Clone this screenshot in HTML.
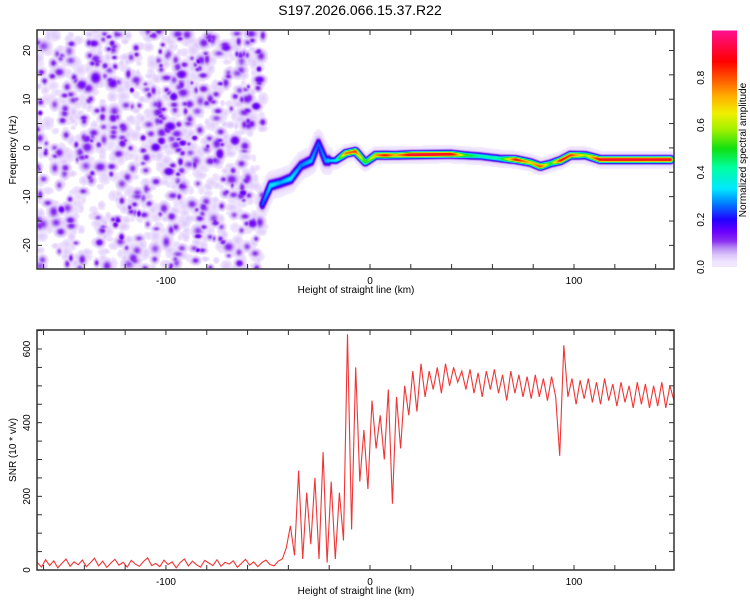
<!DOCTYPE html>
<html><head><meta charset="utf-8">
<style>
html,body{margin:0;padding:0;background:#fff;}
#wrap{position:relative;width:750px;height:600px;overflow:hidden;font-family:"Liberation Sans",sans-serif;}
#heat{position:absolute;left:37px;top:30px;}
#svg{position:absolute;left:0;top:0;}
</style></head>
<body>
<div id="wrap">
<canvas id="heat" width="637" height="239"></canvas>
<svg id="svg" width="750" height="600" xmlns="http://www.w3.org/2000/svg">
<defs>
<linearGradient id="cmap" x1="0" y1="1" x2="0" y2="0"></linearGradient>
</defs>
<text x="360" y="15" text-anchor="middle" font-size="14" fill="#000">S197.2026.066.15.37.R22</text>
<g id="top-axes"></g>
<g id="bot-plot"></g>
<g id="cbar"></g>
</svg>
</div>
<script>
// ---- data ----
const trackH = [-53,-49,-44,-39,-34,-29,-25.5,-22,-17,-12,-7.4,-2.5,2.5,7.4,12.3,19.6,39.2,46,53.9,63.7,71.1,78.4,83.3,88.2,93.1,98,105.4,112.7,147];
const trackF = [-11.5,-7.6,-7,-6.2,-3.5,-2.5,1,-2.5,-2.5,-1,-0.6,-2.9,-1.4,-1.4,-1.4,-1.3,-1.2,-1.4,-1.6,-2.1,-2.3,-2.9,-3.7,-3.1,-2.5,-1.4,-1.4,-2.3,-2.3];
const trackA = [0.25,0.35,0.3,0.35,0.28,0.32,0.25,0.3,0.35,0.8,0.85,0.5,0.75,0.9,0.75,0.95,0.95,0.55,0.42,0.45,0.9,0.7,0.85,0.5,0.9,0.85,0.6,0.95,0.95];
const snrStart = -163, snrStep = 2;
const snrV = [20,8,28,12,25,6,18,30,10,22,14,27,9,20,32,11,24,7,19,29,13,21,8,26,16,10,23,33,12,18,9,27,15,22,6,20,30,11,24,14,8,26,19,12,28,10,21,16,25,7,18,29,13,22,9,20,27,15,11,24,30,
60,120,40,270,30,210,70,250,30,320,20,240,30,210,80,640,110,550,240,380,220,460,330,420,300,490,180,470,330,500,420,540,430,560,470,540,490,550,480,560,500,550,510,540,490,545,480,535,470,540,490,545,480,530,460,540,480,530,470,525,465,530,470,520,460,525,470,310,610,470,520,450,515,465,520,455,510,450,520,460,505,445,510,455,500,440,510,450,505,440,500,445,510,440,500,460];
const xTickLabels = [-100,0,100];
const fTickLabels = [-20,-10,0,10,20];
const snrTickLabels = [0,200,400,600];
const cbTickLabels = [0.0,0.2,0.4,0.6,0.8];

// ---- geometry ----
const X0=37,X1=674,TY0=30,TY1=269,BY0=330,BY1=570;
const XMIN=-163.2,XMAX=149.0,FMIN=-24.85,FMAX=24.2,SMIN=0,SMAX=651.6;
const xs=v=>X0+(v-XMIN)/(XMAX-XMIN)*(X1-X0);
const fs=v=>TY1-(v-FMIN)/(FMAX-FMIN)*(TY1-TY0);
const ss=v=>BY1-(v-SMIN)/(SMAX-SMIN)*(BY1-BY0);

// ---- colormap ----
const stops=[[0,'#ffffff'],[0.02,'#f0e6ff'],[0.05,'#dcc6fa'],[0.08,'#b88cf5'],[0.11,'#8a2ef0'],[0.15,'#6a00ff'],[0.2,'#2000ff'],[0.27,'#0080ff'],[0.33,'#00e8ff'],[0.42,'#00ffa0'],[0.5,'#10e010'],[0.58,'#a0f000'],[0.65,'#f0f000'],[0.72,'#ffb000'],[0.8,'#ff5000'],[0.87,'#ff0000'],[1,'#ff1090']];
const hex=h=>[parseInt(h.substr(1,2),16),parseInt(h.substr(3,2),16),parseInt(h.substr(5,2),16)];
const srgb=stops.map(s=>[s[0],hex(s[1])]);
function cmap(v){v=Math.max(0,Math.min(1,v));for(let i=1;i<srgb.length;i++){if(v<=srgb[i][0]){const a=srgb[i-1],b=srgb[i];const t=(v-a[0])/(b[0]-a[0]);return [0,1,2].map(k=>Math.round(a[1][k]+(b[1][k]-a[1][k])*t));}}return srgb[srgb.length-1][1];}

// ---- heatmap ----
const W=637,H=239,field=new Float32Array(W*H);
function splat(cx,cy,sx,sy,a){const x0=Math.max(0,Math.floor(cx-3*sx)),x1=Math.min(W-1,Math.ceil(cx+3*sx)),y0=Math.max(0,Math.floor(cy-3*sy)),y1=Math.min(H-1,Math.ceil(cy+3*sy));
for(let y=y0;y<=y1;y++){const dy=(y-cy)/sy;for(let x=x0;x<=x1;x++){const dx=(x-cx)/sx;const v=a*Math.exp(-0.5*(dx*dx+dy*dy));const i=y*W+x;if(v>field[i])field[i]=v;}}}
// background noise texture
let seed=197066;function rnd(){seed|=0;seed=seed+0x6D2B79F5|0;let t=Math.imul(seed^seed>>>15,1|seed);t=t+Math.imul(t^t>>>7,61|t)^t;return((t^t>>>14)>>>0)/4294967296;}
const noiseEdge=xs(-52.5)-X0;
for(let n=0;n<1200;n++){const cx=rnd()*noiseEdge,cy=rnd()*H;const r=rnd();const a=r<0.64?0.028+rnd()*0.02:(r<0.97?0.1+rnd()*0.03:0.14+rnd()*0.03);const s=(r<0.64?2.2:2.0)+rnd()*1.6;splat(cx,cy,s*(0.8+rnd()*0.6),s*(0.8+rnd()*0.6),a);}
// track
function interp(arrX,arrY,v){if(v<=arrX[0])return arrY[0];for(let i=1;i<arrX.length;i++){if(v<=arrX[i]){const t=(v-arrX[i-1])/(arrX[i]-arrX[i-1]);return arrY[i-1]+(arrY[i]-arrY[i-1])*t;}}return arrY[arrY.length-1];}
for(let h=trackH[0];h<=trackH[trackH.length-1];h+=0.5){const cx=xs(h)-X0,cy=fs(interp(trackH,trackF,h))-TY0,a=interp(trackH,trackA,h);
const wide=h<-20?1.6:1;
splat(cx,cy,5,7*wide,0.035);splat(cx,cy,3,3.2*wide,0.12);splat(cx,cy,2.2,2.2*wide,a);}
const ctx=document.getElementById('heat').getContext('2d');const img=ctx.createImageData(W,H);
for(let i=0;i<W*H;i++){const v=field[i];if(v<0.015){img.data[i*4+3]=0;continue;}const c=cmap(v);img.data[i*4]=c[0];img.data[i*4+1]=c[1];img.data[i*4+2]=c[2];img.data[i*4+3]=255;}
ctx.putImageData(img,0,0);

// ---- svg helpers ----
const NS='http://www.w3.org/2000/svg';
function el(tag,attrs,parent){const e=document.createElementNS(NS,tag);for(const k in attrs)e.setAttribute(k,attrs[k]);parent.appendChild(e);return e;}
const AX='#303030';
function frame(g,y0,y1){const r=el('rect',{x:X0,y:y0,width:X1-X0,height:y1-y0,fill:'none',stroke:AX,'stroke-width':1.5},g);


for(let v=-160;v<=140;v+=20){const x=xs(v);el('line',{x1:x,y1:y1,x2:x,y2:y1-5,stroke:AX},g);el('line',{x1:x,y1:y0,x2:x,y2:y0+5,stroke:AX},g);}
xTickLabels.forEach(v=>{const t=el('text',{x:xs(v),y:y1+15,'text-anchor':'middle','font-size':10},g);t.textContent=v;

});
const xt=el('text',{x:356,y:y1+24,'text-anchor':'middle','font-size':10},g);xt.textContent='Height of straight line (km)';

}
function ylab(g,txt,x,y,name,size){const t=el('text',{x:x,y:y,'text-anchor':'middle','font-size':size,transform:`rotate(-90 ${x} ${y})`},g);t.textContent=txt;

}

// top axes
const gt=document.getElementById('top-axes');frame(gt,TY0,TY1);
for(let f=-20;f<=20;f+=5){const y=fs(f);el('line',{x1:X0,y1:y,x2:X0+5,y2:y,stroke:AX},gt);el('line',{x1:X1,y1:y,x2:X1-5,y2:y,stroke:AX},gt);}
fTickLabels.forEach(f=>ylab(gt,f,30,fs(f),'y-tick-label',10));
ylab(gt,'Frequency (Hz)',16,150,'y-axis-title',10);

// bottom plot
const gb=document.getElementById('bot-plot');
const pts=snrV.map((v,i)=>xs(snrStart+i*snrStep).toFixed(1)+','+ss(v).toFixed(1)).join(' ');
const pl=el('polyline',{points:pts,fill:'none',stroke:'#f03535','stroke-width':1.1},gb);


frame(gb,BY0,BY1);
for(let s=0;s<=650;s+=50){const y=ss(s);el('line',{x1:X0,y1:y,x2:X0+5,y2:y,stroke:AX},gb);el('line',{x1:X1,y1:y,x2:X1-5,y2:y,stroke:AX},gb);}
snrTickLabels.forEach(s=>ylab(gb,s,30,ss(s),'y-tick-label',10));
ylab(gb,'SNR (10 * v/v)',16,450,'y-axis-title',10);

// colorbar
const grad=document.getElementById('cmap');stops.slice(1).forEach(s=>el('stop',{offset:s[0],'stop-color':s[1]},grad));
const gc=document.getElementById('cbar');
const CB0=30.5,CB1=267;
const cr=el('rect',{x:712,y:CB0,width:25,height:CB1-CB0,fill:'url(#cmap)'},gc);


cbTickLabels.forEach(v=>{const y=CB1-v*(CB1-CB0);ylab(gc,v.toFixed(1),704,y,'colorbar-tick-label',10);});
ylab(gc,'Normalized spectral amplitude',746,150,'colorbar-title',10);
</script>
</body></html>
